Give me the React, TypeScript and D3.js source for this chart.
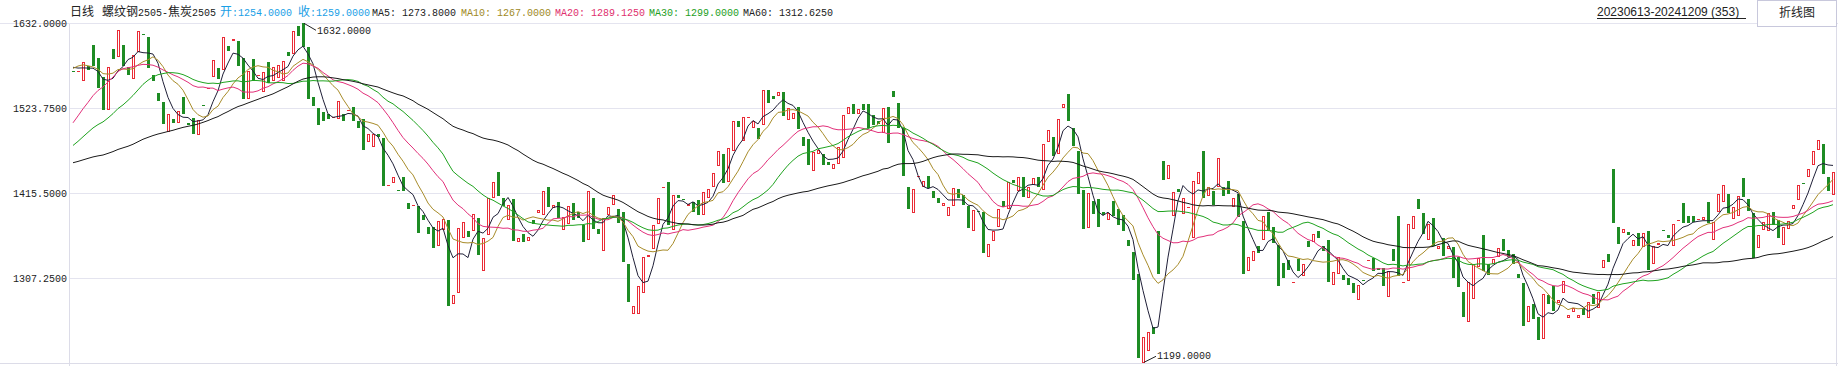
import { useMemo } from 'react';
import * as d3 from 'd3';

// spread chart: rebar 2505 minus coke 2505, daily bodies (no wicks)
const opens = [
  1571, 1570, 1558, 1577, 1604, 1588, 1564, 1522, 1599, 1589,
  1604, 1576, 1561, 1596, 1618, 1615, 1566, 1543, 1532, 1494,
  1510, 1505, 1538, 1505, 1512, 1490, 1528, 1548, 1564, 1575,
  1573, 1603, 1609, 1609, 1588, 1535, 1586, 1565, 1544, 1583,
  1559, 1562, 1559, 1596, 1593, 1629, 1632, 1602, 1538, 1524,
  1519, 1516, 1512, 1510, 1517, 1521, 1525, 1508, 1510, 1481,
  1474, 1491, 1486, 1425, 1429, 1420, 1436, 1403, 1399, 1399,
  1388, 1373, 1373, 1349, 1369, 1382, 1275, 1288, 1359, 1368,
  1367, 1384, 1316, 1362, 1409, 1443, 1409, 1381, 1408, 1353,
  1364, 1355, 1382, 1390, 1388, 1424, 1397, 1404, 1369, 1376,
  1403, 1392, 1375, 1356, 1410, 1370, 1342, 1388, 1401, 1396,
  1392, 1325, 1262, 1262, 1288, 1334, 1344, 1376, 1423, 1430,
  1369, 1413, 1408, 1399, 1404, 1407, 1388, 1409, 1423, 1450,
  1466, 1430, 1469, 1507, 1482, 1512, 1499, 1499, 1502, 1547,
  1539, 1540, 1545, 1509, 1510, 1526, 1487, 1485, 1444, 1465,
  1466, 1455, 1447, 1453, 1460, 1516, 1529, 1516, 1529, 1529,
  1515, 1508, 1492, 1525, 1546, 1530, 1499, 1423, 1391, 1436,
  1424, 1438, 1418, 1409, 1399, 1387, 1399, 1421, 1413, 1399,
  1367, 1393, 1392, 1334, 1355, 1373, 1406, 1396, 1432, 1419,
  1436, 1409, 1426, 1436, 1420, 1481, 1487, 1465, 1524, 1542,
  1499, 1469, 1420, 1371, 1406, 1408, 1392, 1381, 1406, 1395,
  1388, 1356, 1341, 1313, 1199, 1215, 1245, 1367, 1456, 1434,
  1387, 1421, 1389, 1397, 1359, 1427, 1470, 1412, 1419, 1424,
  1424, 1431, 1398, 1414, 1380, 1316, 1329, 1348, 1356, 1392,
  1373, 1350, 1327, 1331, 1302, 1332, 1310, 1355, 1353, 1367,
  1349, 1356, 1299, 1313, 1311, 1308, 1301, 1280, 1305, 1329,
  1333, 1320, 1320, 1284, 1345, 1386, 1301, 1304, 1370, 1408,
  1390, 1356, 1384, 1345, 1359, 1344, 1347, 1334, 1290, 1252,
  1281, 1322, 1362, 1325, 1326, 1335, 1357, 1343, 1338, 1313,
  1301, 1252, 1274, 1258, 1230, 1286, 1298, 1276, 1289, 1257,
  1264, 1257, 1269, 1257, 1287, 1270, 1320, 1338, 1446, 1372,
  1365, 1366, 1348, 1365, 1347, 1368, 1325, 1350, 1369, 1362,
  1348, 1380, 1403, 1387, 1387, 1382, 1381, 1404, 1356, 1392,
  1404, 1414, 1383, 1386, 1435, 1408, 1391, 1346, 1369, 1368,
  1392, 1382, 1350, 1370, 1395, 1407, 1428, 1436, 1451, 1471,
  1478, 1436, 1413,
];

const closes = [
  1570, 1571, 1583, 1573, 1577, 1550, 1521, 1576, 1586, 1624,
  1577, 1566, 1591, 1622, 1617, 1575, 1559, 1533, 1504, 1517,
  1505, 1520, 1516, 1502, 1491, 1509, 1527, 1549, 1585, 1561,
  1615, 1597, 1612, 1578, 1536, 1571, 1559, 1566, 1570, 1556,
  1576, 1579, 1584, 1590, 1622, 1616, 1602, 1535, 1527, 1503,
  1508, 1510, 1513, 1533, 1508, 1522, 1507, 1499, 1471, 1491,
  1491, 1487, 1425, 1426, 1436, 1419, 1419, 1395, 1400, 1365,
  1382, 1364, 1346, 1380, 1383, 1272, 1286, 1371, 1379, 1360,
  1389, 1337, 1359, 1410, 1430, 1412, 1399, 1400, 1355, 1359,
  1353, 1360, 1377, 1394, 1418, 1398, 1400, 1384, 1385, 1399,
  1382, 1384, 1353, 1419, 1370, 1364, 1384, 1398, 1413, 1378,
  1328, 1277, 1272, 1298, 1334, 1337, 1375, 1410, 1424, 1375,
  1413, 1409, 1407, 1402, 1392, 1388, 1417, 1421, 1441, 1470,
  1428, 1473, 1507, 1500, 1513, 1513, 1508, 1485, 1547, 1531,
  1536, 1545, 1514, 1524, 1518, 1497, 1476, 1451, 1468, 1471,
  1451, 1452, 1453, 1475, 1515, 1525, 1517, 1523, 1522, 1499,
  1503, 1504, 1524, 1479, 1538, 1499, 1438, 1396, 1421, 1437,
  1431, 1422, 1409, 1403, 1403, 1398, 1422, 1410, 1401, 1371,
  1394, 1392, 1339, 1351, 1367, 1395, 1398, 1430, 1429, 1436,
  1411, 1423, 1435, 1424, 1478, 1496, 1463, 1510, 1529, 1508,
  1476, 1414, 1370, 1416, 1389, 1373, 1388, 1391, 1387, 1375,
  1367, 1348, 1305, 1206, 1232, 1239, 1236, 1313, 1432, 1451,
  1417, 1417, 1410, 1398, 1431, 1443, 1410, 1423, 1401, 1461,
  1412, 1414, 1409, 1385, 1313, 1334, 1342, 1339, 1386, 1369,
  1352, 1297, 1307, 1318, 1303, 1316, 1325, 1347, 1364, 1359,
  1342, 1302, 1315, 1334, 1305, 1299, 1288, 1299, 1304, 1330,
  1317, 1318, 1298, 1316, 1329, 1310, 1302, 1376, 1387, 1396,
  1364, 1376, 1349, 1349, 1336, 1348, 1307, 1296, 1258, 1303,
  1325, 1333, 1317, 1311, 1332, 1346, 1342, 1335, 1325, 1308,
  1246, 1272, 1255, 1229, 1287, 1274, 1265, 1280, 1304, 1261,
  1269, 1260, 1260, 1277, 1274, 1290, 1330, 1328, 1378, 1351,
  1370, 1362, 1356, 1348, 1365, 1318, 1349, 1352, 1368, 1358,
  1377, 1381, 1378, 1378, 1379, 1383, 1385, 1378, 1379, 1415,
  1426, 1390, 1398, 1412, 1411, 1393, 1333, 1362, 1379, 1391,
  1375, 1358, 1372, 1380, 1400, 1426, 1427, 1446, 1470, 1484,
  1440, 1418, 1443,
];

// closes before the first visible day, estimated from where the MA lines start
const priorCloses = [
  1472, 1465, 1458, 1466, 1470, 1455, 1448, 1452, 1460, 1454,
  1445, 1438, 1430, 1426, 1432, 1421, 1415, 1410, 1418, 1412,
  1405, 1410, 1420, 1416, 1408, 1402, 1412, 1425, 1418, 1410,
  1415, 1408, 1402, 1410, 1422, 1418, 1426, 1420, 1430, 1437,
  1395, 1402, 1410, 1405, 1418, 1432, 1448, 1462, 1480, 1508,
  1540, 1568, 1585, 1592, 1580, 1576, 1582, 1574, 1578,
];

const maPeriods = [5, 10, 20, 30, 60];
const maColors = ['#202038', '#a88c2a', '#e2307a', '#1fa31f', '#1a1a1a'];
const yTicks = [1632, 1523.75, 1415.5, 1307.25];

const headerMA = [
  { label: 'MA5: 1273.8000', x: 372, color: '#222222' },
  { label: 'MA10: 1267.0000', x: 461, color: '#a08a26' },
  { label: 'MA20: 1289.1250', x: 555, color: '#e0306e' },
  { label: 'MA30: 1299.0000', x: 649, color: '#1ea01e' },
  { label: 'MA60: 1312.6250', x: 743, color: '#222222' },
];

const W = 1838;
const H = 366;
const monoFont = '"Liberation Mono", "DejaVu Sans Mono", monospace';
const cjkFont = '"Noto Sans CJK SC", sans-serif';

export default function App() {
  const x = d3.scaleLinear().domain([0, closes.length - 1]).range([73, 1833]);
  const y = d3.scaleLinear().domain([1199, 1632]).range([363.3, 23.3]);

  // moving averages over prior + visible closes
  const maSeries = useMemo(() => {
    const all = [...priorCloses, ...closes];
    const off = priorCloses.length;
    return maPeriods.map(n =>
      closes.map((_, i) => {
        const end = off + i + 1;
        return d3.mean(all.slice(Math.max(0, end - n), end)) as number;
      })
    );
  }, []);

  const line = d3.line<number>()
    .x((_, i) => x(i))
    .y(d => y(d));

  const maxI = d3.maxIndex(opens.map((o, i) => Math.max(o, closes[i])));
  const minI = d3.minIndex(opens.map((o, i) => Math.min(o, closes[i])));
  const maxV = Math.max(opens[maxI], closes[maxI]);
  const minV = Math.min(opens[minI], closes[minI]);

  return (
    <svg width={W} height={H} style={{ position: 'absolute', left: 0, top: 0, background: '#fff' }}>
      {/* grid */}
      {yTicks.map(t => (
        <line key={t} x1={70} x2={1836} y1={Math.round(y(t)) + 0.5} y2={Math.round(y(t)) + 0.5} stroke="#e4e4ef" />
      ))}
      <line x1={0} x2={W} y1={23.5} y2={23.5} stroke="#e4e4ef" />
      <line x1={0} x2={W} y1={363.5} y2={363.5} stroke="#dcdce8" />
      <line x1={69.5} x2={69.5} y1={24} y2={H} stroke="#dcdce8" />
      <line x1={1836.5} x2={1836.5} y1={24} y2={H} stroke="#dcdce8" />

      {/* y labels */}
      {yTicks.map(t => (
        <text key={t} x={67} y={y(t) + 4} textAnchor="end" fontFamily={monoFont} fontSize={10} fill="#222">
          {t.toFixed(4)}
        </text>
      ))}

      {/* candle bodies */}
      {closes.map((c, i) => {
        const o = opens[i];
        const left = Math.round(x(i)) - 1;
        const top = Math.round(y(Math.max(o, c)));
        const bot = Math.round(y(Math.min(o, c)));
        const h = Math.max(1, bot - top);
        if (c >= o) {
          return h <= 2
            ? <rect key={i} x={left} y={top} width={3} height={Math.max(1, h)} fill="#ea2b36" />
            : <rect key={i} x={left + 0.5} y={top + 0.5} width={2} height={h - 1} fill="none" stroke="#ea2b36" strokeWidth={1} />;
        }
        return <rect key={i} x={left} y={top} width={3} height={h} fill="#1e8c24" />;
      })}

      {/* MA lines */}
      {maSeries.map((s, k) => (
        <path key={k} d={line(s) || ''} fill="none" stroke={maColors[k]} strokeWidth={1} />
      ))}

      {/* max / min markers */}
      <g fontFamily={monoFont} fontSize={10} fill="#222">
        <line x1={x(maxI) + 1} y1={y(maxV)} x2={x(maxI) + 13} y2={y(maxV) + 7} stroke="#222" />
        <text x={x(maxI) + 14} y={y(maxV) + 11}>{maxV.toFixed(4)}</text>
        <line x1={x(minI) + 1} y1={y(minV) - 1} x2={x(minI) + 13} y2={y(minV) - 7} stroke="#222" />
        <text x={x(minI) + 14} y={y(minV) - 4}>{minV.toFixed(4)}</text>
      </g>

      {/* header */}
      <text x={70} y={16} fontFamily={cjkFont} fontSize={12} fill="#222">日线</text>
      <text x={102} y={16} fontSize={12} fill="#222">
        <tspan fontFamily={cjkFont}>螺纹钢</tspan>
        <tspan fontFamily={monoFont} fontSize={10}>2505-</tspan>
        <tspan fontFamily={cjkFont}>焦炭</tspan>
        <tspan fontFamily={monoFont} fontSize={10}>2505</tspan>
      </text>
      <text x={220} y={16} fontSize={12} fill="#1aa0e6">
        <tspan fontFamily={cjkFont}>开</tspan>
        <tspan fontFamily={monoFont} fontSize={10}>:1254.0000</tspan>
      </text>
      <text x={298} y={16} fontSize={12} fill="#1aa0e6">
        <tspan fontFamily={cjkFont}>收</tspan>
        <tspan fontFamily={monoFont} fontSize={10}>:1259.0000</tspan>
      </text>
      {headerMA.map(m => (
        <text key={m.label} x={m.x} y={16} fontFamily={monoFont} fontSize={10} fill={m.color}>{m.label}</text>
      ))}
      <text x={1597} y={16} fontFamily='"Liberation Sans", Arial, sans-serif' fontSize={12} fill="#222">
        20230613-20241209 (353)
      </text>
      <line x1={1597} x2={1746} y1={18.5} y2={18.5} stroke="#222" />
      <rect x={1757.5} y={0.5} width={79} height={26} fill="#fff" stroke="#c8c8dc" />
      <text x={1797} y={17} textAnchor="middle" fontFamily={cjkFont} fontSize={12} fill="#222">折线图</text>
    </svg>
  );
}
